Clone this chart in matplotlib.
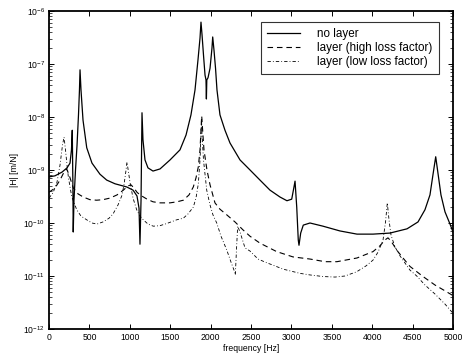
import matplotlib.pyplot as plt
import numpy as np

# frequency [Hz] and log10 |H| [m/N]
f_none = [0, 74, 161, 223, 260, 278, 288, 295, 300, 309, 328, 347, 365, 377, 384, 396, 421, 467,
          532, 631, 714, 817, 962, 1040, 1089, 1114, 1126, 1139, 1151, 1163, 1188, 1225, 1287,
          1374, 1498, 1621, 1696, 1757, 1807, 1844, 1869, 1881, 1894, 1912, 1931, 1943, 1948,
          1953, 1968, 1993, 2017, 2026, 2042, 2061, 2079, 2116, 2178, 2240, 2364, 2488, 2611,
          2735, 2859, 2945, 3004, 3032, 3045, 3066, 3085, 3094, 3115, 3147, 3230, 3391, 3601,
          3812, 4010, 4220, 4431, 4567, 4653, 4715, 4752, 4786, 4814, 4851, 4901, 4963, 5000]
lg_none = [-9.13, -9.11, -9.04, -8.96, -8.87, -8.62, -8.25, -9.19, -10.17, -9.57, -9.00, -8.53,
           -7.96, -7.49, -7.11, -7.49, -8.06, -8.58, -8.87, -9.08, -9.19, -9.26, -9.32, -9.38,
           -9.49, -9.72, -10.40, -9.57, -7.92, -8.43, -8.81, -8.96, -9.02, -8.98, -8.81, -8.62,
           -8.34, -7.96, -7.49, -6.92, -6.51, -6.21, -6.45, -6.83, -7.21, -7.30, -7.66, -7.30,
           -7.26, -7.08, -6.70, -6.49, -6.74, -7.08, -7.49, -7.96, -8.25, -8.49, -8.81, -9.00,
           -9.19, -9.38, -9.51, -9.58, -9.55, -9.32, -9.21, -9.70, -10.32, -10.42, -10.19,
           -10.04, -10.00, -10.06, -10.15, -10.21, -10.21, -10.19, -10.11, -9.98, -9.75, -9.47,
           -9.09, -8.75, -9.06, -9.47, -9.79, -10.02, -10.17]

f_high = [0, 74, 136, 186, 219, 248, 301, 359, 424, 507, 590, 668, 755, 842, 920, 978, 1015,
          1052, 1089, 1126, 1213, 1287, 1374, 1498, 1584, 1662, 1733, 1786, 1819, 1848, 1869,
          1884, 1890, 1897, 1918, 1955, 1993, 2054, 2116, 2203, 2302, 2401, 2488, 2611, 2818,
          3020, 3230, 3416, 3564, 3812, 4010, 4096, 4158, 4195, 4233, 4303, 4381, 4468, 4629,
          4777, 4901, 5000]
lg_high = [-9.42, -9.34, -9.19, -9.04, -8.98, -9.09, -9.34, -9.45, -9.51, -9.56, -9.57, -9.56,
           -9.53, -9.47, -9.38, -9.30, -9.28, -9.34, -9.42, -9.47, -9.55, -9.60, -9.62, -9.62,
           -9.60, -9.57, -9.47, -9.32, -9.15, -8.94, -8.62, -8.15, -7.98, -8.15, -8.62, -9.00,
           -9.28, -9.62, -9.74, -9.85, -9.98, -10.13, -10.25, -10.38, -10.54, -10.64, -10.68,
           -10.73, -10.73, -10.66, -10.54, -10.43, -10.32, -10.28, -10.34, -10.51, -10.66,
           -10.82, -11.01, -11.17, -11.28, -11.37]

f_low = [0, 50, 99, 136, 167, 186, 204, 223, 241, 281, 343, 396, 467, 532, 594, 668, 743, 792,
         854, 900, 928, 950, 965, 984, 1002, 1040, 1085, 1126, 1167, 1225, 1291, 1374, 1457,
         1580, 1662, 1720, 1786, 1819, 1848, 1869, 1881, 1887, 1894, 1912, 1952, 1993, 2030,
         2076, 2129, 2200, 2253, 2290, 2306, 2320, 2335, 2364, 2426, 2488, 2587, 2694, 2797,
         2896, 3106, 3230, 3391, 3540, 3663, 3808, 3923, 4010, 4072, 4134, 4165, 4187, 4208,
         4233, 4282, 4344, 4468, 4551, 4653, 4777, 4901, 4975, 5000]
lg_low = [-9.53, -9.43, -9.23, -8.91, -8.53, -8.38, -8.62, -8.91, -9.15, -9.50, -9.75, -9.87,
          -9.94, -10.00, -10.02, -9.98, -9.91, -9.83, -9.66, -9.49, -9.28, -9.04, -8.85, -9.04,
          -9.23, -9.53, -9.75, -9.87, -9.94, -10.02, -10.06, -10.05, -10.01, -9.94, -9.91,
          -9.83, -9.70, -9.53, -9.26, -8.81, -8.34, -8.02, -8.34, -8.81, -9.38, -9.66, -9.85,
          -10.00, -10.25, -10.51, -10.74, -10.89, -10.98, -10.51, -10.06, -10.17, -10.47,
          -10.53, -10.68, -10.75, -10.81, -10.87, -10.95, -10.98, -11.01, -11.02, -11.00,
          -10.92, -10.81, -10.70, -10.55, -10.32, -9.98, -9.62, -9.94, -10.23, -10.45, -10.62,
          -10.89, -11.00, -11.17, -11.34, -11.53, -11.66, -11.70]

labels = ["no layer", "layer (high loss factor)", "layer (low loss factor)"]

plt.rcParams.update({
    "font.family": ["Liberation Sans", "DejaVu Sans"],
    "font.size": 6.2,
    "mathtext.fontset": "custom",
    "mathtext.rm": "Liberation Sans",
    "mathtext.it": "Liberation Sans",
    "xtick.direction": "in",
    "ytick.direction": "in",
    "xtick.top": True,
    "ytick.right": True,
})

fig = plt.figure(figsize=(4.63, 3.56), dpi=100)
ax = fig.add_axes([49 / 463, 1 - 329 / 356, 404 / 463, 318 / 356])

ax.semilogy(f_none, 10.0 ** np.array(lg_none), color="black", lw=0.9, label=labels[0])
ax.semilogy(f_high, 10.0 ** np.array(lg_high), color="black", lw=0.8,
            dashes=(5, 3.5), label=labels[1])
ax.semilogy(f_low, 10.0 ** np.array(lg_low), color="black", lw=0.6,
            dashes=(4, 2.5, 1, 2.5), label=labels[2])

ax.set_xlim(0, 5000)
ax.set_ylim(1e-12, 1e-6)
ax.set_xticks(np.arange(0, 5001, 500))
ax.set_yticks([10.0 ** k for k in range(-12, -5)])
ax.tick_params(which="major", length=3.5, width=0.7, pad=3)
ax.tick_params(which="minor", length=2, width=0.5)
for s in ax.spines.values():
    s.set_linewidth(1.3)

ax.set_xlabel("frequency [Hz]", labelpad=1)
ax.set_ylabel("|H| [m/N]", labelpad=3)

leg = ax.legend(loc="upper right", bbox_to_anchor=(390 / 404, 307 / 318),
                fontsize=8.4, frameon=True, fancybox=False,
                handlelength=2.8, handletextpad=1.5, labelspacing=0.15,
                borderpad=0.55, borderaxespad=0)
leg.get_frame().set_edgecolor("black")
leg.get_frame().set_linewidth(0.8)

fig.savefig("out.png", dpi=100)
